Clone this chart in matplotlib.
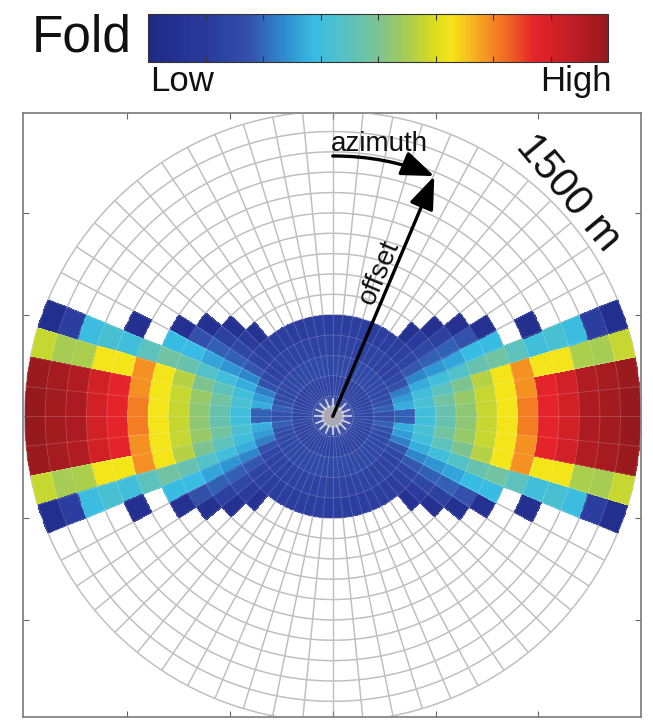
import numpy as np
import matplotlib
matplotlib.use('Agg')
import matplotlib.pyplot as plt
from matplotlib.colors import LinearSegmentedColormap, Normalize
from matplotlib.collections import LineCollection
from matplotlib.patches import Circle, FancyArrowPatch
import matplotlib.cm as cm

plt.rcParams['font.family'] = ['Liberation Sans', 'DejaVu Sans']

# ---------------- data ----------------
ring_edges_m = [0, 100, 200, 300, 400, 500, 600, 700, 800, 900, 1000, 1100, 1200, 1300, 1400, 1500]
n_sectors = 64          # azimuth sectors (5.625 deg each)

# fold (0-100 = Low..High) for one quadrant, listed per offset ring,
# sector index counted from the inline (horizontal) direction; mirrored to the other quadrants
ring_01 = [16, 16, 16, 16, 16, 16, 16, 16, 16, 16, 16, 16, 16, 16, 16, 16]
ring_02 = [18, 18, 17, 16, 16, 16, 16, 16, 16, 16, 16, 16, 16, 16, 16, 16]
ring_03 = [22, 24, 22, 20, 19, 19, 19, 19, 19, 19, 19, 19, 19, 19, 19, 19]
ring_04 = [24, 34, 32, 28, 22, 18, 16, 16, 16, 16, 16, 16, 16, 16, 16, 16]
ring_05 = [38, 40, 38, 34, 29, 23, 17, 15, 14, 14, 14, 14, 14, 14, 14, 14]
ring_06 = [46, 48, 44, 38, 31, 24, 18, 13, 7]
ring_07 = [53, 54, 50, 42, 33, 24, 15, 6]
ring_08 = [60, 60, 58, 46, 36, 22, 6]
ring_09 = [66, 66, 66, 48, 36, 6]
ring_10 = [76, 74, 74, 44]
ring_11 = [84, 84, 66, 38, 5]
ring_12 = [88, 88, 66, 40]
ring_13 = [96, 95, 57, 37]
ring_14 = [98, 97, 56, 14]
ring_15 = [100, 99, 60, 4]

colorbar_ticks = [12.5, 25, 37.5, 50, 62.5, 75, 87.5]

cmap_positions = [0.0, 0.12, 0.22, 0.30, 0.36, 0.42, 0.50, 0.56, 0.62, 0.66, 0.72, 0.78, 0.84, 0.92, 1.0]
cmap_colors = ['#1f2a87', '#29399b', '#3351ab', '#2f8fd0', '#38bce4', '#52c2c8', '#7cc392',
               '#a5cc55', '#d8dc1f', '#f5e41a', '#f7a622', '#f06a24', '#e5242a', '#c21d25', '#961a1d']

arrow_offset_m = 1280
arrow_azimuth_deg = 22.7

# ---------------- build grid ----------------
quadrant = [ring_01, ring_02, ring_03, ring_04, ring_05, ring_06, ring_07, ring_08,
            ring_09, ring_10, ring_11, ring_12, ring_13, ring_14, ring_15]
n_rings = len(ring_edges_m) - 1
q = n_sectors // 4
C = np.full((n_rings, n_sectors), np.nan)
for i, vals in enumerate(quadrant):
    for j, v in enumerate(vals):
        C[i, j] = v
        C[i, 2 * q - 1 - j] = v
        C[i, 2 * q + j] = v
        C[i, 4 * q - 1 - j] = v

sub = 6
theta_edges = np.linspace(0, 2 * np.pi, n_sectors * sub + 1)
R, T = np.meshgrid(np.array(ring_edges_m, float), theta_edges, indexing='ij')
X = R * np.cos(T)
Y = R * np.sin(T)
Crep = np.repeat(C, sub, axis=1)

cmap = LinearSegmentedColormap.from_list('fold', list(zip(cmap_positions, cmap_colors)))
norm = Normalize(0, 100)

fig = plt.figure(figsize=(6.53, 7.21), dpi=100)
ax = fig.add_axes([23 / 653, 4 / 721, 618 / 653, 604 / 721])

rmax = ring_edges_m[-1]
tt = np.linspace(0, 2 * np.pi, 721)
sector_angles = np.linspace(0, 2 * np.pi, n_sectors + 1)[:-1]


def draw_grid(color, lw, alpha, z):
    for r in ring_edges_m[1:]:
        ax.plot(r * np.cos(tt), r * np.sin(tt), color=color, lw=lw, alpha=alpha, zorder=z)
    segs = [[(0, 0), (rmax * np.cos(a), rmax * np.sin(a))] for a in sector_angles]
    ax.add_collection(LineCollection(segs, colors=color, linewidths=lw, alpha=alpha, zorder=z))


draw_grid('#b3b3b3', 1.0, 1.0, 1)
ax.pcolormesh(X, Y, np.ma.masked_invalid(Crep), cmap=cmap, norm=norm, shading='flat', zorder=2)
draw_grid('white', 0.6, 0.2, 3)

# center blob where grid spokes converge
ax.add_patch(Circle((0, 0), 55, color='#a8a9b4', zorder=4, lw=0))
spoke_angles = np.linspace(0, 2 * np.pi, 17)[:-1]
ax.add_collection(LineCollection([[(45 * np.cos(a), 45 * np.sin(a)), (92 * np.cos(a), 92 * np.sin(a))]
                                  for a in spoke_angles], colors='#d9dbe8', linewidths=1.2, zorder=4))

# arrows
ang = np.deg2rad(90 - arrow_azimuth_deg)
xe, ye = arrow_offset_m * np.cos(ang), arrow_offset_m * np.sin(ang)
ax.add_patch(FancyArrowPatch((0, 0), (xe, ye), arrowstyle='-|>,head_length=1.0,head_width=0.38',
                             mutation_scale=20, lw=2.4, color='black', shrinkA=0, shrinkB=0, zorder=6))
ax.add_patch(FancyArrowPatch((0, arrow_offset_m), (xe, ye), connectionstyle='arc3,rad=-0.1',
                             arrowstyle='-|>,head_length=1.0,head_width=0.38',
                             mutation_scale=20, lw=2.4, color='black', shrinkA=0, shrinkB=0, zorder=6))

ax.text(-10, 1305, 'azimuth', fontsize=20, ha='left', va='baseline', color='#111', zorder=7)
ax.text(229, 710, 'offset', fontsize=20, ha='center', va='center', rotation=67,
        rotation_mode='anchor', color='#111', zorder=7)
ax.text(1144, 1098, '1500 m', fontsize=30, ha='center', va='center', rotation=-50,
        rotation_mode='anchor', color='#111', zorder=7)

ax.set_xlim(-1508, 1500)
ax.set_ylim(-1477, 1491)
ax.set_xticks([-1000, -500, 0, 500, 1000])
ax.set_yticks([-1000, -500, 0, 500, 1000])
ax.tick_params(direction='in', length=4, width=0.8, color='#666666', top=True, right=True,
               labelbottom=False, labelleft=False)
for s in ax.spines.values():
    s.set_color('#7a7a7a')
    s.set_linewidth(1.2)

# colorbar
cax = fig.add_axes([148 / 653, 1 - 62 / 721, 460 / 653, 48 / 721])
cb = fig.colorbar(cm.ScalarMappable(norm=norm, cmap=cmap), cax=cax, orientation='horizontal')
cb.set_ticks(colorbar_ticks)
cax.tick_params(direction='in', length=4, width=0.8, color='#333333', top=True, bottom=True,
                labelbottom=False, labeltop=False)
cb.outline.set_linewidth(0.8)
cb.outline.set_edgecolor('#333333')

fig.text(132 / 653, 1 - 38 / 721, 'Fold', fontsize=37, ha='right', va='center', color='#111')
fig.text(150 / 653, 1 - 91 / 721, 'Low', fontsize=25, ha='left', va='baseline', color='#111')
fig.text(612 / 653, 1 - 91 / 721, 'High', fontsize=25, ha='right', va='baseline', color='#111')

fig.savefig('out.png', dpi=100)
